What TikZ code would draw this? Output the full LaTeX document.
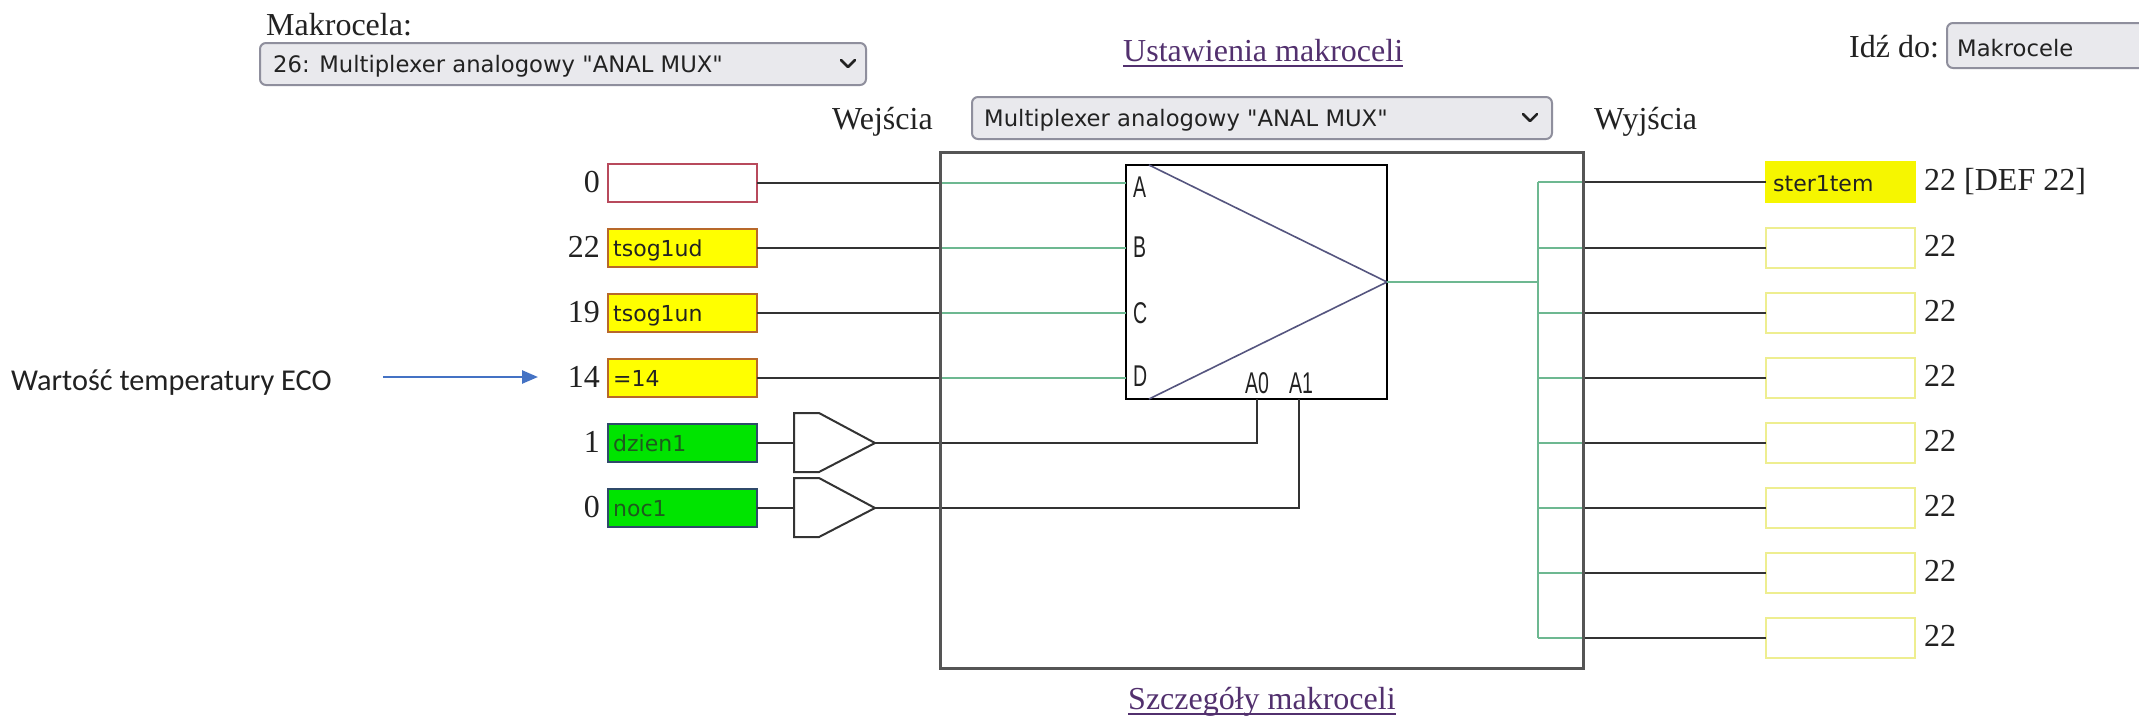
\documentclass[tikz,border=0pt]{standalone}
\usepackage{fontspec}
\setmainfont{Liberation Serif}
\newfontfamily\uifont{DejaVu Sans}
\newfontfamily\calfont{Carlito}
\newfontfamily\strokefont[FakeStretch=0.65]{Liberation Sans}
\usetikzlibrary{arrows.meta}
\definecolor{wireblack}{HTML}{333333}
\definecolor{wiregreen}{HTML}{6DB891}
\definecolor{boxgray}{HTML}{555555}
\definecolor{trianglecol}{HTML}{55557F}
\definecolor{ddfill}{HTML}{E9E9ED}
\definecolor{ddborder}{HTML}{8F8F9D}
\definecolor{linkpurple}{HTML}{52306E}
\definecolor{yellowfill}{HTML}{FFFF00}
\definecolor{yellowborder}{HTML}{B8682A}
\definecolor{redborder}{HTML}{B84A5C}
\definecolor{greenfill}{HTML}{00E400}
\definecolor{greenborder}{HTML}{2F4A6A}
\definecolor{greentext}{HTML}{1E5A1E}
\definecolor{outyellow}{HTML}{F6F600}
\definecolor{outborder}{HTML}{EEEE90}
\definecolor{arrowblue}{HTML}{4472C4}
\definecolor{textdark}{HTML}{222222}
\begin{document}
\begin{tikzpicture}[x=1pt,y=-1pt,
  serif/.style={font=\fontsize{32}{36}\selectfont, inner sep=0pt, text=textdark},
  link/.style={serif, text=linkpurple},
  uitext/.style={font=\uifont\fontsize{22.7}{26}\selectfont, inner sep=0pt, text=textdark},
  boxtext/.style={font=\uifont\fontsize{22}{26}\selectfont, inner sep=0pt, text=textdark},
  strokelbl/.style={font=\strokefont\fontsize{30}{34}\selectfont, inner sep=0pt, text=textdark},
  dropdown/.style={draw=ddborder, fill=ddfill, line width=2pt, rounded corners=6pt, inner sep=0pt},
  chev/.style={draw=textdark, line width=2.5pt, line cap=round, line join=round},
  inbox/.style={draw, line width=2pt, minimum width=149pt, minimum height=38pt, inner sep=0pt, outer sep=0pt},
  redbox/.style={inbox, draw=redborder, fill=white},
  yelbox/.style={inbox, draw=yellowborder, fill=yellowfill},
  grnbox/.style={inbox, draw=greenborder, fill=greenfill},
  outbox/.style={draw=outborder, fill=white, line width=2pt, minimum width=149pt, minimum height=40pt, inner sep=0pt, outer sep=0pt},
  wire/.style={draw=wireblack, line width=2pt},
  gwire/.style={draw=wiregreen, line width=2pt},
  buffer/.style={draw=wireblack, line width=2pt, line join=miter, fill=white},
  tri/.style={draw=trianglecol, line width=1.6pt},
]
\useasboundingbox (0,0) rectangle (2139,721);
\fill[white] (0,0) rectangle (2139,721);

% ---------- top bar ----------
\node[serif, anchor=base west] (mklabel) at (266,35) {Makrocela:};
\node[dropdown, minimum width=606pt, minimum height=42pt] (dd1) at (563,64) {};
\node[uitext, anchor=base west] (dd1text) at (273,72) {26: Multiplexer analogowy "ANAL MUX"};
\draw[chev] (841,60) -- (848,67) -- (855,60);

\node[link, anchor=base west] (ust) at (1123,61) {Ustawienia makroceli};
\draw[linkpurple, line width=1.5pt] ([yshift=-5pt]ust.base west) -- ([yshift=-5pt]ust.base east);

\node[serif, anchor=base west] (idz) at (1849,57) {Idź do:};
\node[dropdown, minimum width=230pt, minimum height=45pt] (gobox) at (2062,45.5) {};
\node[uitext, anchor=base west] (gotext) at (1957,56) {Makrocele};

\node[serif, anchor=base west] (wej) at (832,129) {Wejścia};
\node[dropdown, minimum width=580pt, minimum height=42pt] (dd2) at (1262,118) {};
\node[uitext, anchor=base west] (dd2text) at (984,126) {Multiplexer analogowy "ANAL MUX"};
\draw[chev] (1523,114) -- (1530,121) -- (1537,114);
\node[serif, anchor=base west] (wyj) at (1594,129) {Wyjścia};

% ---------- outer macro-cell box and mux ----------
\node[draw=boxgray, line width=3pt, minimum width=643pt, minimum height=516pt, inner sep=0pt, outer sep=0pt] (outer) at (1261.5,410) {};
\node[draw=black, line width=2pt, minimum width=261pt, minimum height=234pt, inner sep=0pt, outer sep=0pt, fill=white] (mux) at (1256.5,282) {};
\draw[tri] ([xshift=23pt]mux.north west) -- (mux.east) -- ([xshift=23pt]mux.south west);
\node[strokelbl, anchor=base west] (pA) at (1133,197) {A};
\node[strokelbl, anchor=base west] (pB) at (1133,257) {B};
\node[strokelbl, anchor=base west] (pC) at (1133,323) {C};
\node[strokelbl, anchor=base west] (pD) at (1133,386) {D};
\node[strokelbl, anchor=base west] (pA0) at (1245,393) {A0};
\node[strokelbl, anchor=base west] (pA1) at (1289,393) {A1};
\coordinate (A0pin) at (mux.south);
\coordinate (A1pin) at ([xshift=42.5pt]mux.south);

% ---------- inputs ----------
\node[redbox] (inA) at (682.5,183) {};
\node[yelbox] (inB) at (682.5,248) {};
\node[yelbox] (inC) at (682.5,313) {};
\node[yelbox] (inD) at (682.5,378) {};
\node[grnbox] (inE) at (682.5,443) {};
\node[grnbox] (inF) at (682.5,508) {};

\node[boxtext, anchor=base west] (tB) at (613,256.5) {tsog1ud};
\node[boxtext, anchor=base west] (tC) at (613,321.5) {tsog1un};
\node[boxtext, anchor=base west] (tD) at (613,386.5) {=14};
\node[boxtext, anchor=base west, text=greentext] (tE) at (613,451.5) {dzien1};
\node[boxtext, anchor=base west, text=greentext] (tF) at (613,516.5) {noc1};

\node[serif, anchor=base east] (nA) at (600,192) {0};
\node[serif, anchor=base east] (nB) at (600,257) {22};
\node[serif, anchor=base east] (nC) at (600,322) {19};
\node[serif, anchor=base east] (nD) at (600,387) {14};
\node[serif, anchor=base east] (nE) at (600,452) {1};
\node[serif, anchor=base east] (nF) at (600,517) {0};

% input wires A-D
\foreach \n in {inA,inB,inC,inD}{
  \draw[wire] (\n.east) -- (\n.east -| outer.west);
  \draw[gwire] (\n.east -| outer.west) -- (\n.east -| mux.west);
}

% buffers
\draw[buffer] (794,413) -- (819,413) -- (875,443) -- (819,472) -- (794,472) -- cycle;
\coordinate (bufEin) at (794,443);
\coordinate (bufEout) at (875,443);
\draw[buffer] (794,478) -- (819,478) -- (875,508) -- (819,537) -- (794,537) -- cycle;
\coordinate (bufFin) at (794,508);
\coordinate (bufFout) at (875,508);

\draw[wire] (inE.east) -- (bufEin);
\draw[wire] (bufEout) -- (A0pin |- bufEout) -- (A0pin);
\draw[wire] (inF.east) -- (bufFin);
\draw[wire] (bufFout) -- (A1pin |- bufFout) -- (A1pin);

% ---------- outputs ----------
\node[outbox, draw=outyellow, fill=outyellow] (o1) at (1840.5,182) {};
\node[outbox] (o2) at (1840.5,248) {};
\node[outbox] (o3) at (1840.5,313) {};
\node[outbox] (o4) at (1840.5,378) {};
\node[outbox] (o5) at (1840.5,443) {};
\node[outbox] (o6) at (1840.5,508) {};
\node[outbox] (o7) at (1840.5,573) {};
\node[outbox] (o8) at (1840.5,638) {};
\node[boxtext, anchor=base west] (o1text) at (1773,191) {ster1tem};

\node[serif, anchor=base west] (v1) at (1924,190) {22 [DEF 22]};
\node[serif, anchor=base west] (v2) at (1924,256) {22};
\node[serif, anchor=base west] (v3) at (1924,321) {22};
\node[serif, anchor=base west] (v4) at (1924,386) {22};
\node[serif, anchor=base west] (v5) at (1924,451) {22};
\node[serif, anchor=base west] (v6) at (1924,516) {22};
\node[serif, anchor=base west] (v7) at (1924,581) {22};
\node[serif, anchor=base west] (v8) at (1924,646) {22};

\coordinate (busT) at (1538,182);
\coordinate (busB) at (1538,638);
\draw[gwire] (mux.east) -- (busT |- mux.east);
\draw[gwire] (busT) -- (busB);
\foreach \n in {o1,o2,o3,o4,o5,o6,o7,o8}{
  \draw[gwire] (busT |- \n.west) -- (outer.east |- \n.west);
  \draw[wire] (outer.east |- \n.west) -- (\n.west);
}

% redraw outer box border on top
\draw[boxgray, line width=3pt] (outer.north west) rectangle (outer.south east);

% ---------- annotation ----------
\node[font=\calfont\fontsize{30.3}{34}\selectfont, inner sep=0pt, anchor=base west, text=textdark] (eco) at (11,390) {Wartość temperatury ECO};
\coordinate (ecoarrowstart) at (383,377);
\coordinate (ecoarrowend) at (538,377);
\draw[arrowblue, line width=2.5pt, -{Triangle[length=16pt,width=13pt]}] (ecoarrowstart) -- (ecoarrowend);

% ---------- bottom link ----------
\node[link, anchor=base west] (szcz) at (1128,709) {Szczegóły makroceli};
\draw[linkpurple, line width=1.5pt] ([yshift=-5pt]szcz.base west) -- ([yshift=-5pt]szcz.base east);
\end{tikzpicture}
\end{document}
